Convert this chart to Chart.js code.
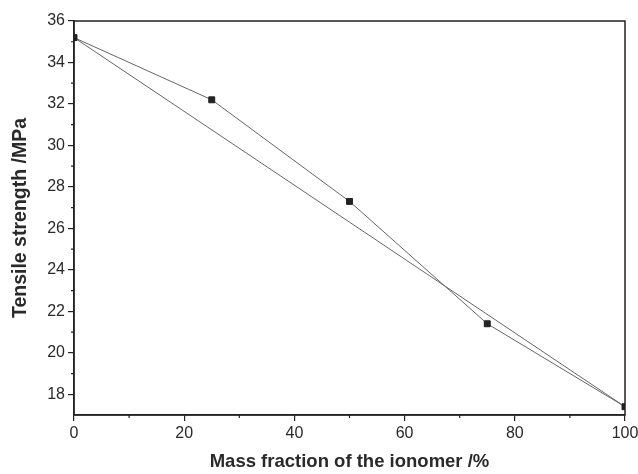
<!DOCTYPE html>
<html>
<head>
<meta charset="utf-8">
<script src="https://cdn.jsdelivr.net/npm/chart.js@4"></script>
<style>
  html, body { margin: 0; padding: 0; background: #fff; }
  #wrap { width: 638px; height: 474px; }
</style>
</head>
<body>
<div id="wrap"><canvas id="chart" width="638" height="474"></canvas></div>
<script>
// Data
const massFraction = [0, 25, 50, 75, 100];
const tensileStrength = [35.2, 32.2, 27.3, 21.4, 17.4];
// straight additivity line between the two pure components
const linearX = [0, 100];
const linearY = [35.2, 17.4];
const xTicks = [0, 20, 40, 60, 80, 100];
const yTicks = [18, 20, 22, 24, 26, 28, 30, 32, 34, 36];

const axisColor = '#222';
const textColor = '#2a2a2a';

// frame round the plot + minor ticks
const framePlugin = {
  id: 'frame',
  afterDraw(chart) {
    const { ctx, chartArea: a, scales } = chart;
    ctx.save();
    ctx.strokeStyle = axisColor;
    ctx.lineWidth = 1.5;
    ctx.strokeRect(a.left, a.top, a.right - a.left, a.bottom - a.top);
    ctx.lineWidth = 1.2;
    ctx.beginPath();
    for (let v = 10; v < 100; v += 20) {
      const px = scales.x.getPixelForValue(v);
      ctx.moveTo(px, a.bottom);
      ctx.lineTo(px, a.bottom + 3);
    }
    for (let v = 19; v < 36; v += 2) {
      const py = scales.y.getPixelForValue(v);
      ctx.moveTo(a.left, py);
      ctx.lineTo(a.left - 3, py);
    }
    ctx.stroke();
    ctx.restore();
  }
};

new Chart(document.getElementById('chart'), {
  type: 'scatter',
  data: {
    datasets: [{
      label: 'Tensile strength',
      data: massFraction.map((x, i) => ({ x: x, y: tensileStrength[i] })),
      showLine: true,
      borderColor: '#666',
      borderWidth: 1,
      pointStyle: 'rect',
      pointRadius: 4.2,
      pointBackgroundColor: '#222',
      pointBorderColor: '#222'
    }, {
      label: 'Linear',
      data: linearX.map((x, i) => ({ x: x, y: linearY[i] })),
      showLine: true,
      borderColor: '#666',
      borderWidth: 1,
      pointRadius: 0
    }]
  },
  options: {
    responsive: false,
    animation: false,
    layout: { padding: { top: 21, right: 13, left: 9, bottom: 0 } },
    plugins: { legend: { display: false }, tooltip: { enabled: false } },
    scales: {
      x: {
        type: 'linear',
        min: 0, max: 100,
        afterBuildTicks: s => { s.ticks = xTicks.map(v => ({ value: v })); },
        afterFit: s => { s.height = 59; s.paddingLeft = 0; s.paddingRight = 0; },
        grid: { drawOnChartArea: false, tickLength: 6, color: axisColor, lineWidth: 1.2 },
        border: { color: axisColor, width: 1.5 },
        ticks: { color: textColor, font: { family: 'Liberation Sans', size: 16 }, padding: 3, maxRotation: 0 },
        title: { display: true, text: 'Mass fraction of the ionomer /%', color: textColor,
                 font: { family: 'Liberation Sans', size: 18.5, weight: 'bold' }, padding: { top: 6, bottom: 1 } }
      },
      y: {
        type: 'linear',
        min: 17, max: 36,
        afterBuildTicks: s => { s.ticks = yTicks.map(v => ({ value: v })); },
        afterFit: s => { s.width = 65; },
        grid: { drawOnChartArea: false, tickLength: 6, color: axisColor, lineWidth: 1.2 },
        border: { color: axisColor, width: 1.5 },
        ticks: { color: textColor, font: { family: 'Liberation Sans', size: 16 }, padding: 3 },
        title: { display: true, text: 'Tensile strength /MPa', color: textColor,
                 font: { family: 'Liberation Sans', size: 19.5, weight: 'bold' }, padding: { top: 0, bottom: 2 } }
      }
    }
  },
  plugins: [framePlugin]
});
</script>
</body>
</html>
